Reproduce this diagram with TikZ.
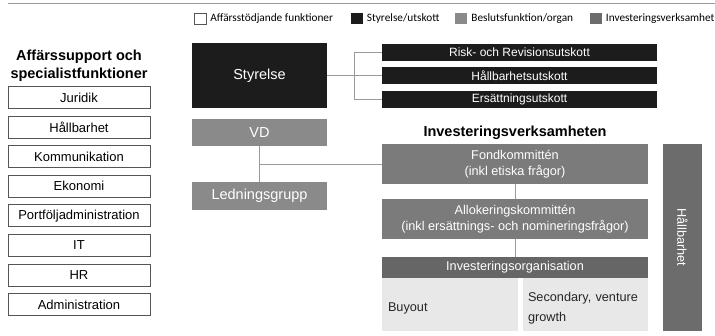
\documentclass[tikz,border=0pt]{standalone}
\usepackage{fontspec}
\setmainfont{Liberation Sans}
\newfontfamily\legendfont{Carlito}
\usetikzlibrary{positioning, calc}
\definecolor{BoardBlack}{HTML}{1C1C1C}
\definecolor{DecisionGray}{HTML}{8A8A8A}
\definecolor{InvestGray}{HTML}{7B7B7B}
\definecolor{OrgGray}{HTML}{666666}
\definecolor{SideGray}{HTML}{6C6C6C}
\definecolor{PaleGray}{HTML}{E8E8E8}
\definecolor{LineGray}{HTML}{9A9A9A}
\definecolor{FrameGray}{HTML}{555555}
\tikzset{
  supportbox/.style={draw=FrameGray, line width=0.8pt, fill=white, minimum width=142pt, minimum height=22pt, inner sep=0pt, font=\fontsize{13}{15}\selectfont},
  boardbox/.style={fill=BoardBlack, text=white, inner sep=0pt, font=\fontsize{14.5}{17}\selectfont},
  committeebox/.style={fill=BoardBlack, text=white, inner sep=0pt, minimum width=275pt, minimum height=17pt, font=\fontsize{12}{14}\selectfont},
  decisionbox/.style={fill=DecisionGray, text=white, inner sep=0pt, minimum width=135pt, font=\fontsize{14.5}{17}\selectfont},
  investbox/.style={fill=InvestGray, text=white, inner sep=0pt, minimum width=266pt, minimum height=40pt, align=center, font=\fontsize{12.7}{15.5}\selectfont},
  orgbox/.style={fill=OrgGray, text=white, inner sep=0pt, minimum width=266pt, minimum height=21pt, font=\fontsize{12.7}{15}\selectfont},
  teambox/.style={fill=PaleGray, text=black!85, inner ysep=0pt, minimum height=53pt, align=left, font=\fontsize{12.7}{20}\selectfont},
  headtext/.style={inner sep=0pt, align=center, font=\bfseries\fontsize{14.5}{18}\selectfont},
  swatch/.style={minimum width=12pt, minimum height=11pt, inner sep=0pt},
  legendtext/.style={inner sep=0pt, anchor=west, font=\legendfont\fontsize{11.3}{13}\selectfont},
  orgline/.style={draw=LineGray, line width=0.8pt}
}
\begin{document}
\begin{tikzpicture}[x=1pt, y=-1pt, node distance=6.8pt]
\useasboundingbox (0,0) rectangle (715,336);
\draw[LineGray, line width=0.8pt] (8,3) -- (715,3);

% legend
\node[swatch, draw=FrameGray, fill=white] (keysupport) at (200,18.5) {};
\node[legendtext, right=4pt of keysupport] (keysupporttext) {Affärsstödjande funktioner};
\node[swatch, fill=BoardBlack] (keyboard) at (356.5,18.5) {};
\node[legendtext, right=4pt of keyboard] (keyboardtext) {Styrelse/utskott};
\node[swatch, fill=DecisionGray] (keydecision) at (461,18.5) {};
\node[legendtext, right=4pt of keydecision] (keydecisiontext) {Beslutsfunktion/organ};
\node[swatch, fill=SideGray] (keyinvest) at (595.5,18.5) {};
\node[legendtext, right=4pt of keyinvest] (keyinvesttext) {Investeringsverksamhet};

% support functions
\node[headtext] (supporthead) at (79,65.5) {Affärssupport och\\specialistfunktioner};
\node[supportbox] (juridik) at (79,97.5) {Juridik};
\node[supportbox, below=of juridik] (hallbar) {Hållbarhet};
\node[supportbox, below=of hallbar] (kommunikation) {Kommunikation};
\node[supportbox, below=of kommunikation] (ekonomi) {Ekonomi};
\node[supportbox, below=of ekonomi] (portfolj) {Portföljadministration};
\node[supportbox, below=of portfolj] (it) {IT};
\node[supportbox, below=of it] (hr) {HR};
\node[supportbox, below=of hr] (admin) {Administration};

% board and committees
\node[boardbox, minimum width=135pt, minimum height=65pt] (styrelse) at (259.5,75.5) {Styrelse};
\node[committeebox] (risk) at (519.5,52.5) {Risk- och Revisionsutskott};
\node[committeebox] (hallbarutskott) at (519.5,75.5) {Hållbarhetsutskott};
\node[committeebox] (ersatt) at (519.5,99.5) {Ersättningsutskott};
\coordinate (boardsplit) at ($(styrelse.east)+(27,0)$);
\draw[orgline] (styrelse.east) -- (hallbarutskott.west);
\draw[orgline] (boardsplit |- risk.west) -- (boardsplit |- ersatt.west);
\draw[orgline] (boardsplit |- risk.west) -- (risk.west);
\draw[orgline] (boardsplit |- ersatt.west) -- (ersatt.west);

% management
\node[decisionbox, minimum height=27pt] (vd) at (259.5,132.5) {VD};
\node[decisionbox, minimum height=28pt] (ledning) at (259.5,196) {Ledningsgrupp};

% investment side
\node[headtext] (investhead) at (515,133) {Investeringsverksamheten};
\node[investbox] (fond) at (515,164) {Fondkommittén\\(inkl etiska frågor)};
\node[investbox] (allok) at (515,219) {Allokeringskommittén\\(inkl ersättnings- och nomineringsfrågor)};
\node[orgbox] (investorg) at (515,267.5) {Investeringsorganisation};
\node[teambox, inner xsep=6pt, text width=124pt, text height=22pt, text depth=7pt] (buyout) at (450,304.5) {Buyout};
\node[teambox, inner xsep=5pt, text width=115pt, text height=10pt, text depth=15pt] (secondary) at (585.5,304.5) {Secondary, venture\\growth};
\node[fill=SideGray, text=white, inner sep=0pt, minimum width=187pt, minimum height=39pt, rotate=-90, font=\fontsize{12.7}{15}\selectfont] (sidehallbar) at (682.5,237.5) {Hållbarhet};

\draw[orgline] (vd.south) -- (ledning.north);
\draw[orgline] (vd.south |- fond.west) -- (fond.west);
\draw[orgline] (fond.south) -- (allok.north);
\draw[orgline] (allok.south) -- (investorg.north);
\end{tikzpicture}
\end{document}
